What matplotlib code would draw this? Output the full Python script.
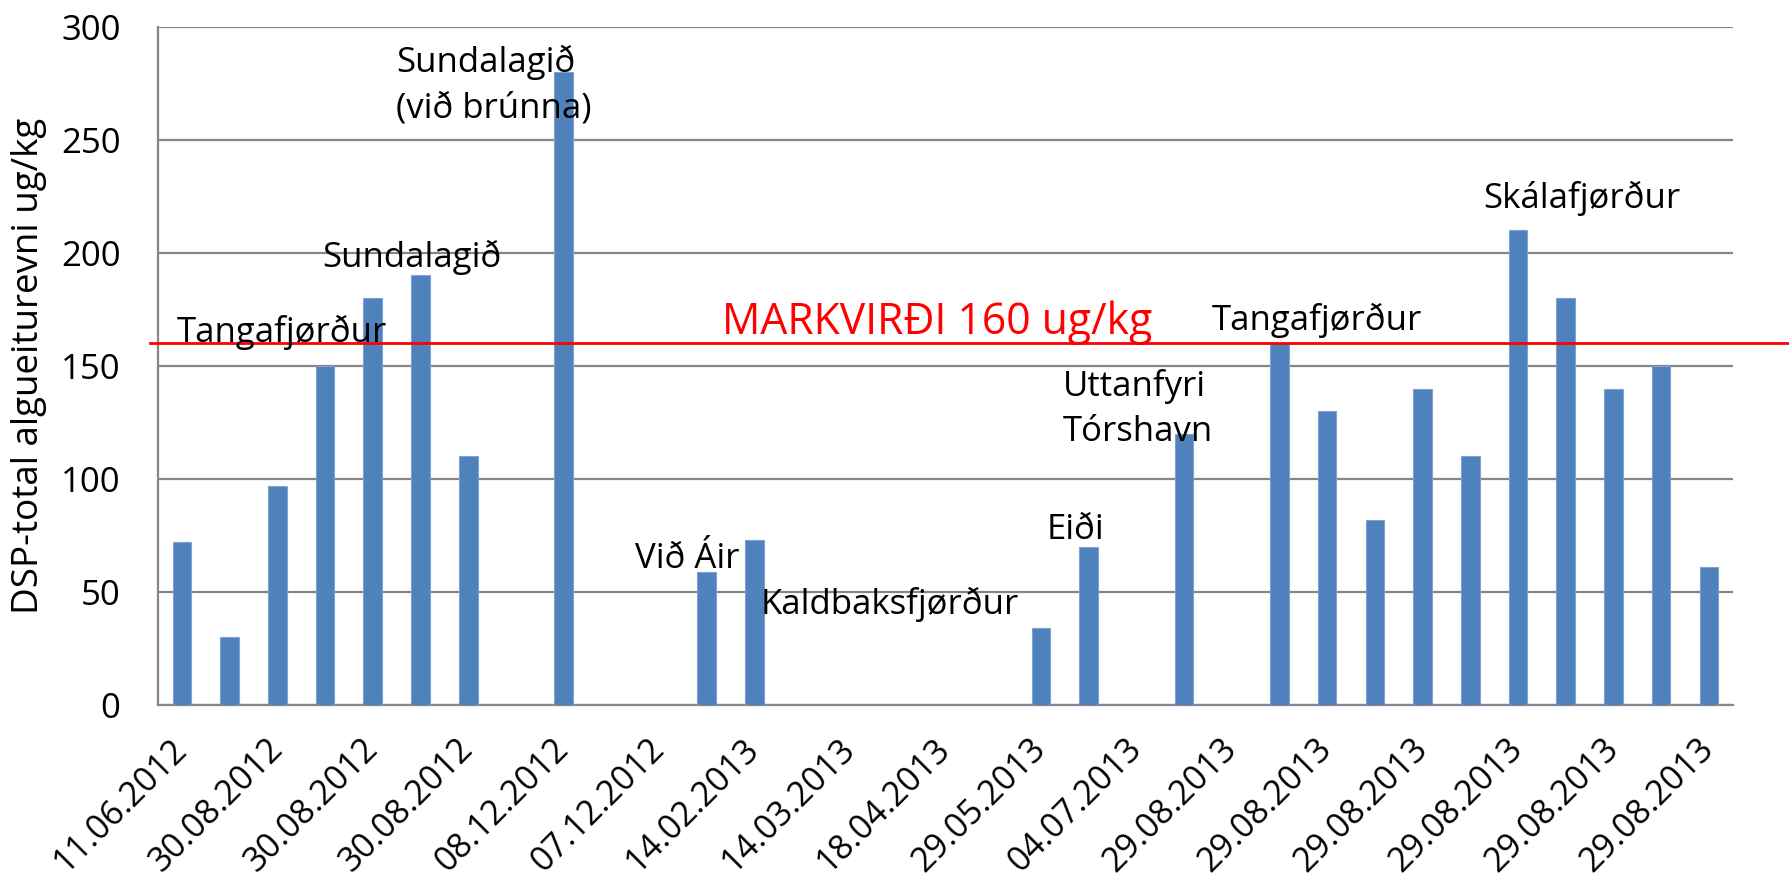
import numpy as np
import matplotlib.pyplot as plt

plt.rcParams['font.family'] = ['Open Sans', 'DejaVu Sans']

# 33 sampling points, only every other date is printed on the axis
dates = ['11.06.2012', '', '30.08.2012', '', '30.08.2012', '', '30.08.2012', '',
         '08.12.2012', '', '07.12.2012', '', '14.02.2013', '', '14.03.2013', '',
         '18.04.2013', '', '29.05.2013', '', '04.07.2013', '', '29.08.2013', '',
         '29.08.2013', '', '29.08.2013', '', '29.08.2013', '', '29.08.2013', '',
         '29.08.2013']
dsp = [72, 30, 97, 150, 180, 190, 110, 0, 280, 0, 0, 59, 73, 0, 0, 0, 0, 0,
       34, 70, 0, 120, 0, 160, 130, 82, 140, 110, 210, 180, 140, 150, 61]
limit = 160

# place names written next to the bars: (text, x, y)
places = [('Tangafjørður', -0.1, 165),
          ('Sundalagið', 2.94, 198),
          ('Sundalagið\n(við brúnna)', 4.49, 274),
          ('Við Áir', 9.5, 64.5),
          ('Kaldbaksfjørður', 12.13, 44.4),
          ('Eiði', 18.12, 77.7),
          ('Uttanfyri\nTórshavn', 18.46, 131),
          ('Tangafjørður', 21.59, 170),
          ('Skálafjørður', 27.27, 224)]

fig = plt.figure(figsize=(17.9, 8.85), dpi=100)
ax = fig.add_axes([0.0883, 0.203, 0.968 - 0.0883, 0.767])

x = np.arange(len(dsp))
ax.bar(x, dsp, width=0.39, color='#4f81bd', edgecolor='#7fa3d0', linewidth=0.8, zorder=3)

ax.set_xlim(-0.5, len(dsp) - 0.5)
ax.set_ylim(0, 300)
ax.set_yticks(range(0, 301, 50))
ax.yaxis.grid(True, color='#868686', linewidth=1.6, zorder=0)
ax.set_axisbelow(True)
for s in ['top', 'right']:
    ax.spines[s].set_visible(False)
for s in ['left', 'bottom']:
    ax.spines[s].set_color('#868686')
    ax.spines[s].set_linewidth(1.6)

ax.set_xticks(x)
ax.set_xticklabels(dates, rotation=45, ha='right', va='center', rotation_mode='anchor', fontsize=24.5)
ax.tick_params(axis='x', length=0, pad=28)
ax.tick_params(axis='y', length=0, pad=27, labelsize=25)
ax.set_ylabel('DSP-total algueiturevni ug/kg', fontsize=26.5, labelpad=10)

# limit value line, runs past the plot area to the right edge
ax.axhline(limit, xmin=-0.005, xmax=1.04, color='#ff0000', linewidth=2, clip_on=False, zorder=4)
ax.text(11.32, 169, 'MARKVIRÐI 160 ug/kg', color='#ff0000', fontsize=30.8,
        ha='left', va='center', zorder=5)

for txt, tx, ty in places:
    ax.text(tx, ty, txt, fontsize=25, ha='left', va='center', linespacing=1.45, zorder=5)

plt.savefig('out.png', dpi=100)
